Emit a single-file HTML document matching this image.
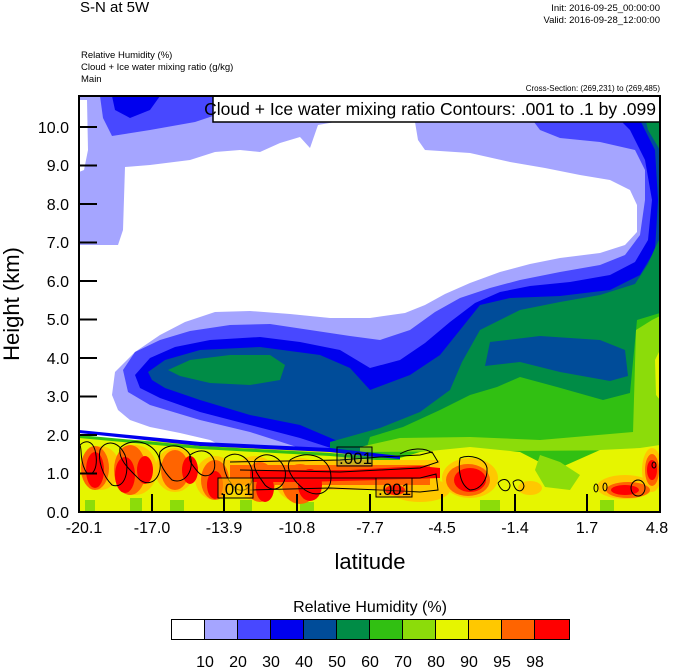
<!DOCTYPE html>
<html><head><meta charset="utf-8"><style>
html,body{margin:0;padding:0;background:#fff;}
svg{display:block;font-family:"Liberation Sans",sans-serif;}
</style></head><body>
<svg width="674" height="668" viewBox="0 0 674 668" xmlns="http://www.w3.org/2000/svg">
<defs><clipPath id="pc"><rect x="79" y="96" width="581" height="416"/></clipPath></defs>
<g clip-path="url(#pc)">
<rect x="79" y="96" width="581" height="416" fill="#a5a5ff"/>
<path d="M100,96 L245,96 L225,112 L195,122 L150,130 L112,136 L103,118 Z" fill="#4848ff"/>
<path d="M112,96 L160,96 L150,110 L130,118 L115,110 Z" fill="#0000ee"/>
<path d="M79,100 L87,100 L88,150 L84,170 L79,172 Z" fill="#fff"/>
<path d="M125,167 L150,165 L190,160 L215,152 L240,150 L260,152 L280,143 L300,137 L310,148 L318,125 L335,122 L415,122 L418,140 L425,150 L470,153 L510,162 L545,168 L580,175 L610,180 L630,190 L637,205 L637,232 L625,245 L600,253 L560,258 L530,264 L500,272 L470,283 L445,294 L425,305 L405,313 L370,318 L330,318 L290,314 L250,311 L215,312 L185,322 L160,335 L135,352 L115,372 L112,395 L118,410 L130,420 L150,427 L180,433 L210,440 L220,445 L200,447 L130,440 L79,438 L79,245 L118,245 L123,230 Z" fill="#fff"/>
<path d="M245,447 L268,446 L270,456 L243,457 Z" fill="#fff"/>
<path d="M123,370 L135,352 L160,340 L190,331 L230,325 L270,324 L310,330 L350,336 L380,340 L410,330 L435,312 L460,298 L490,288 L520,280 L560,272 L600,265 L625,255 L640,235 L645,200 L645,170 L635,150 L600,142 L560,138 L540,130 L525,110 L520,96 L660,96 L660,470 L400,462 L340,456 L300,448 L250,432 L200,420 L150,405 L128,392 Z" fill="#4848ff"/>
<path d="M135,375 L150,358 L175,347 L210,340 L260,337 L300,342 L340,350 L370,368 L400,360 L425,343 L450,322 L475,303 L500,292 L530,286 L570,282 L610,275 L635,262 L648,240 L652,200 L645,160 L630,130 L610,110 L600,96 L660,96 L660,470 L390,462 L340,451 L300,438 L250,425 L200,412 L160,398 L140,388 Z" fill="#0000ee"/>
<path d="M148,372 L165,360 L200,350 L260,347 L320,355 L350,368 L370,390 L410,375 L440,355 L460,330 L480,305 L510,298 L560,296 L610,290 L640,275 L655,250 L658,200 L655,150 L640,120 L630,96 L660,96 L660,470 L380,462 L340,442 L300,425 L250,415 L200,400 L165,388 L152,380 Z" fill="#004c99"/>
<path d="M168,370 L190,360 L230,355 L270,355 L285,365 L280,380 L250,385 L210,383 L180,376 Z" fill="#008c46"/>
<path d="M330,442 L380,428 L420,412 L450,390 L462,362 L480,330 L520,310 L560,302 L600,295 L635,284 L648,264 L655,248 L660,238 L660,470 L330,470 Z" fill="#008c46"/>
<path d="M640,96 L660,96 L660,150 L648,130 Z" fill="#008c46"/>
<path d="M490,342 L540,336 L600,340 L625,350 L628,376 L610,381 L560,372 L520,362 L485,366 Z" fill="#004c99"/>
<path d="M370,437 L403,427 L440,410 L470,395 L497,387 L520,377 L557,387 L603,400 L630,393 L637,320 L660,313 L660,470 L360,470 Z" fill="#31c012"/>
<path d="M633,433 L636,330 L652,320 L660,316 L660,470 L620,470 Z" fill="#8cdc0a"/>
<path d="M360,447 L400,438 L470,437 L540,440 L633,432 L660,430 L660,450 L360,452 Z" fill="#8cdc0a"/>
<path d="M655,360 L660,350 L660,400 L656,395 Z" fill="#e6f500"/>
<path d="M79,437 L330,450 L400,458 L420,452 L470,447 L520,452 L555,470 L600,450 L640,448 L660,445 L660,512 L79,512 Z" fill="#e6f500"/>
<path d="M79,433 L200,446 L330,452 L400,460 L400,456 L330,448 L200,442 L79,430 Z" fill="#0000ee"/>
<path d="M79,438 L200,449 L330,456 L400,462 L400,459 L330,453 L200,446 L79,435 Z" fill="#31c012"/>
<path d="M540,455 L560,462 L580,475 L570,490 L545,487 L535,470 Z" fill="#8cdc0a"/>
<path d="M79,495 L660,495 L660,512 L79,512 Z" fill="#e6f500"/>
<g fill="#8cdc0a">
<rect x="85" y="500" width="10" height="12"/><rect x="130" y="498" width="12" height="14"/><rect x="170" y="500" width="14" height="12"/><rect x="240" y="500" width="12" height="12"/><rect x="300" y="502" width="14" height="10"/><rect x="480" y="500" width="20" height="12"/><rect x="600" y="500" width="14" height="12"/>
</g>
<g fill="#ffc800">
<ellipse cx="100" cy="468" rx="20" ry="22"/><ellipse cx="135" cy="470" rx="22" ry="25"/><ellipse cx="175" cy="470" rx="20" ry="22"/><ellipse cx="215" cy="478" rx="20" ry="22"/><ellipse cx="255" cy="478" rx="22" ry="22"/><ellipse cx="300" cy="480" rx="25" ry="22"/>
<rect x="220" y="460" width="220" height="30"/><ellipse cx="470" cy="478" rx="28" ry="20"/><ellipse cx="420" cy="490" rx="30" ry="12"/><ellipse cx="625" cy="487" rx="28" ry="12"/><ellipse cx="652" cy="470" rx="10" ry="22"/><ellipse cx="530" cy="488" rx="12" ry="7"/>
</g>
<g fill="#ff6400">
<ellipse cx="95" cy="468" rx="14" ry="22"/><ellipse cx="130" cy="470" rx="16" ry="25"/><ellipse cx="175" cy="470" rx="14" ry="20"/><ellipse cx="215" cy="480" rx="14" ry="20"/><ellipse cx="260" cy="482" rx="15" ry="20"/><ellipse cx="300" cy="484" rx="18" ry="20"/>
<rect x="230" y="465" width="200" height="20"/><ellipse cx="468" cy="480" rx="22" ry="16"/><ellipse cx="628" cy="490" rx="22" ry="8"/><ellipse cx="652" cy="470" rx="7" ry="16"/>
</g>
<g fill="#ff0000">
<ellipse cx="95" cy="470" rx="9" ry="18"/><ellipse cx="125" cy="475" rx="10" ry="18"/><ellipse cx="145" cy="470" rx="8" ry="14"/><ellipse cx="190" cy="470" rx="8" ry="14"/><ellipse cx="215" cy="485" rx="8" ry="14"/><ellipse cx="265" cy="488" rx="9" ry="14"/><ellipse cx="310" cy="485" rx="12" ry="16"/>
<path d="M250,470 L350,470 L420,466 L440,468 L440,478 L380,480 L300,482 L250,482 Z"/><ellipse cx="470" cy="480" rx="16" ry="12"/><ellipse cx="395" cy="490" rx="10" ry="5"/><ellipse cx="625" cy="490" rx="14" ry="5"/><ellipse cx="652" cy="470" rx="5" ry="10"/>
</g>
<g fill="none" stroke="#000" stroke-width="1">
<path d="M80,445 C85,440 92,440 95,450 C100,470 90,480 85,470 C80,460 82,450 80,445"/>
<path d="M100,450 C105,440 118,440 125,455 C130,470 125,490 112,485 C102,475 98,460 100,450"/>
<path d="M120,448 C130,438 150,440 158,455 C165,470 155,490 140,480 C130,470 118,460 120,448"/>
<path d="M160,452 C168,442 185,445 190,455 C195,470 185,485 172,480 C162,470 158,460 160,452"/>
<path d="M190,455 C200,448 210,450 214,460 C218,475 205,480 198,472 C192,465 188,460 190,455"/>
<path d="M225,458 C235,450 248,455 252,470 C255,485 245,495 235,488 C225,478 222,465 225,458"/>
<path d="M255,460 C265,450 280,455 285,470 C288,485 275,495 265,485 C258,475 252,468 255,460"/>
<path d="M290,460 C305,450 325,455 330,470 C335,490 320,500 305,490 C292,480 285,468 290,460"/>
<path d="M230,462 L340,460 L380,457 L420,455 L432,452 L438,462 L420,468 L380,470 L340,472 L240,470"/>
<path d="M235,478 L330,478 L380,478 L420,478 L436,474 L438,490 L420,492 L380,490 L330,488 L250,490"/>
<path d="M400,454 C410,448 425,447 432,453"/>
<path d="M460,458 C470,454 485,458 487,468 C488,480 480,490 470,490 C460,485 458,470 460,458"/>
<path d="M498,483 C502,478 508,478 510,485 C510,492 502,494 498,483"/>
<path d="M513,482 C518,478 523,480 524,486 C523,493 515,493 513,482"/>
<ellipse cx="596" cy="488" rx="2" ry="4"/><ellipse cx="605" cy="487" rx="2" ry="4"/>
<ellipse cx="638" cy="488" rx="7" ry="8"/><ellipse cx="654" cy="465" rx="2" ry="3"/>
</g>
<g stroke="#000" stroke-width="1">
<rect x="218" y="478" width="35" height="20" fill="#ffc800" fill-opacity="0.6"/>
<rect x="337" y="447" width="35" height="19" fill="#004c99" fill-opacity="0.2"/>
<rect x="376" y="478" width="36" height="19" fill="#ff6400" fill-opacity="0.3"/>
</g>
<g font-size="17" fill="#000">
<text x="220" y="495">.001</text><text x="339" y="464">.001</text><text x="378" y="495">.001</text>
</g>
</g>
<rect x="213" y="96" width="447" height="26" fill="#fff" stroke="#000" stroke-width="1.5"/>
<text x="656" y="115" font-size="17.5" text-anchor="end">Cloud + Ice water mixing ratio Contours: .001 to .1 by .099</text>
<rect x="79" y="96" width="581" height="416" fill="none" stroke="#000" stroke-width="2"/>
<g stroke="#000" stroke-width="2">
<line x1="79" y1="127" x2="97" y2="127"/><line x1="79" y1="165.5" x2="97" y2="165.5"/><line x1="79" y1="204" x2="97" y2="204"/><line x1="79" y1="242.5" x2="97" y2="242.5"/><line x1="79" y1="281" x2="97" y2="281"/><line x1="79" y1="319.5" x2="97" y2="319.5"/><line x1="79" y1="358" x2="97" y2="358"/><line x1="79" y1="396.5" x2="97" y2="396.5"/><line x1="79" y1="435" x2="97" y2="435"/><line x1="79" y1="473.5" x2="97" y2="473.5"/>
<line x1="152" y1="512" x2="152" y2="494"/><line x1="224" y1="512" x2="224" y2="494"/><line x1="297" y1="512" x2="297" y2="494"/><line x1="370" y1="512" x2="370" y2="494"/><line x1="442" y1="512" x2="442" y2="494"/><line x1="515" y1="512" x2="515" y2="494"/><line x1="587" y1="512" x2="587" y2="494"/>
</g>
<g font-size="16" text-anchor="end">
<text x="69" y="133">10.0</text><text x="69" y="171">9.0</text><text x="69" y="210">8.0</text><text x="69" y="248">7.0</text><text x="69" y="287">6.0</text><text x="69" y="325">5.0</text><text x="69" y="364">4.0</text><text x="69" y="402">3.0</text><text x="69" y="441">2.0</text><text x="69" y="479">1.0</text><text x="69" y="518">0.0</text>
</g>
<g font-size="16" text-anchor="middle">
<text x="84" y="533">-20.1</text><text x="152" y="533">-17.0</text><text x="224" y="533">-13.9</text><text x="297" y="533">-10.8</text><text x="370" y="533">-7.7</text><text x="442" y="533">-4.5</text><text x="515" y="533">-1.4</text><text x="587" y="533">1.7</text><text x="657" y="533">4.8</text>
</g>
<text x="370" y="569" font-size="22" text-anchor="middle">latitude</text>
<text transform="translate(19,304) rotate(-90)" font-size="22" text-anchor="middle">Height (km)</text>
<text x="80" y="12" font-size="15">S-N at 5W</text>
<text x="660" y="11" font-size="9.5" text-anchor="end">Init: 2016-09-25_00:00:00</text>
<text x="660" y="23" font-size="9.5" text-anchor="end">Valid: 2016-09-28_12:00:00</text>
<text x="81" y="58" font-size="9.5">Relative Humidity   (%)</text>
<text x="81" y="70" font-size="9.5">Cloud + Ice water mixing ratio   (g/kg)</text>
<text x="81" y="82" font-size="9.5">Main</text>
<text x="660" y="91" font-size="8" text-anchor="end">Cross-Section: (269,231) to (269,485)</text>
<text x="370" y="612" font-size="16" text-anchor="middle">Relative Humidity  (%)</text>
<g stroke="#000" stroke-width="1">
<rect x="171.5" y="619.5" width="33" height="20" fill="#fff"/>
<rect x="204.5" y="619.5" width="33" height="20" fill="#a5a5ff"/>
<rect x="237.5" y="619.5" width="33" height="20" fill="#4848ff"/>
<rect x="270.5" y="619.5" width="33" height="20" fill="#0000ee"/>
<rect x="303.5" y="619.5" width="33" height="20" fill="#004c99"/>
<rect x="336.5" y="619.5" width="33" height="20" fill="#008c46"/>
<rect x="369.5" y="619.5" width="33" height="20" fill="#31c012"/>
<rect x="402.5" y="619.5" width="33" height="20" fill="#8cdc0a"/>
<rect x="435.5" y="619.5" width="33" height="20" fill="#e6f500"/>
<rect x="468.5" y="619.5" width="33" height="20" fill="#ffc800"/>
<rect x="501.5" y="619.5" width="33" height="20" fill="#ff6400"/>
<rect x="534.5" y="619.5" width="35" height="20" fill="#ff0000"/>
</g>
<g font-size="16" text-anchor="middle">
<text x="205" y="667">10</text><text x="238" y="667">20</text><text x="271" y="667">30</text><text x="304" y="667">40</text><text x="337" y="667">50</text><text x="370" y="667">60</text><text x="403" y="667">70</text><text x="436" y="667">80</text><text x="469" y="667">90</text><text x="502" y="667">95</text><text x="535" y="667">98</text>
</g>
</svg>
</body></html>
